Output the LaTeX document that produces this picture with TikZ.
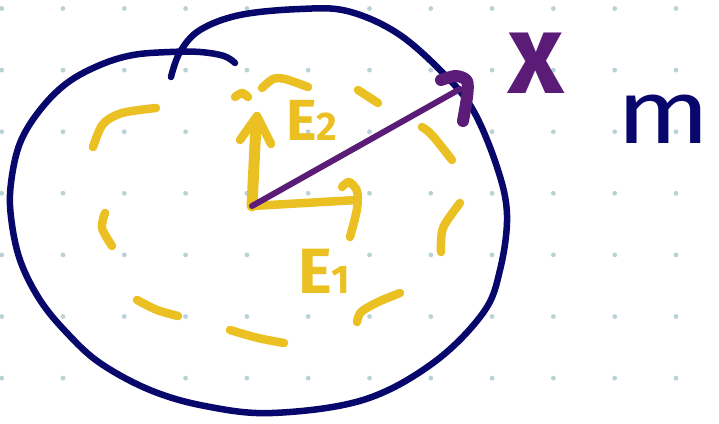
\documentclass[tikz,border=0pt]{standalone}
\usepackage{fontspec}
\setsansfont{Fira Sans}
\usetikzlibrary{arrows.meta,calc,positioning}
\definecolor{inkNavy}  {HTML}{07076C}
\definecolor{inkYellow}{HTML}{EBC022}
\definecolor{inkPurple}{HTML}{5B1C78}
\definecolor{dotGray}  {HTML}{B9D2D6}
\tikzset{
  font=\sffamily,
  griddot/.style={fill=dotGray,draw=none},
  outline/.style={draw=inkNavy,line width=6.5pt,line cap=round,line join=round},
  dashpiece/.style={draw=inkYellow,line width=8.5pt,line cap=round,line join=round},
  axis/.style={draw=inkYellow,line width=11pt,line cap=round},
  axishead/.style={draw=inkYellow,line width=8.5pt,line cap=round,line join=round},
  vecline/.style={draw=inkPurple,line width=6pt,line cap=round},
  vechead/.style={draw=inkPurple,line width=12pt,line cap=round,line join=round},
  ylabel/.style={text=inkYellow,font=\sffamily\bfseries,inner sep=0pt},
}

\begin{document}
\begin{tikzpicture}[x=1pt,y=-1pt]
\useasboundingbox (0,0) rectangle (719,423);

% dot grid
\foreach \i in {0,...,11}
  \foreach \j in {0,...,6}
    \fill[griddot] (1.7+61.3*\i,8.5+61.6*\j) circle (2.4);

% navy loop
\draw[outline] plot[smooth,tension=0.6] coordinates {
  (235,63) (224,56) (200,52) (170,52) (133,55) (100,65) (67,83) (40,110)
  (20,143) (11,183) (11,217) (20,260) (40,300) (67,333) (100,363) (150,390)
  (205,406) (272,413) (363,400) (433,363) (483,313) (500,270) (507,215)
  (497,167) (473,110) (443,73) (397,33) (347,11) (300,9) (240,15) (200,30)
  (180,52) (171,77)};

% dashed yellow blob
\draw[dashpiece] plot[smooth] coordinates {(156,108) (122,113) (103,124) (93,147)};
\draw[dashpiece] plot[smooth] coordinates {(105,213) (102,228) (112,246)};
\draw[dashpiece] plot[smooth] coordinates {(137,300) (157,310) (178,316)};
\draw[dashpiece] plot[smooth] coordinates {(230,330) (258,338) (284,343)};
\draw[dashpiece] plot[smooth] coordinates {(357,322) (361,312) (378,302) (400,293)};
\draw[dashpiece] plot[smooth] coordinates {(441,252) (443,228) (460,203)};
\draw[dashpiece] plot[smooth] coordinates {(422,127) (432,135) (452,160)};
\draw[dashpiece] (358,90) -- (378,103);
\draw[dashpiece] plot[smooth] coordinates {(262,88) (273,79) (285,79) (308,87)};
\draw[dashpiece] plot[smooth] coordinates {(235,97) (242,93) (248,97)};

% axes
\coordinate (origin) at (252,206);
\coordinate (etwoTip) at (256,124);
\coordinate (eoneTip) at (357,200);
\draw[axis] (origin) -- (etwoTip);
\draw[axishead] (240,140) -- (257,116) -- (271,144);
\draw[axishead] (origin) -- (eoneTip);
\draw[axishead] plot[smooth] coordinates {(342,187) (349,182) (357,191) (357,209) (350,237)};

\node[ylabel,anchor=base west] (lblEtwo) at (286,140)
  {\fontsize{58}{58}\selectfont E\fontsize{40}{40}\selectfont 2};
\node[ylabel,anchor=base west] (lblEone) at (298,293)
  {\fontsize{64}{64}\selectfont E\fontsize{40}{40}\selectfont 1};

% vector x
\coordinate (xTip) at (460,89);
\draw[vecline] (origin) -- (xTip);
\draw[vechead] plot[smooth] coordinates {(441,80) (456,76) (467,81) (467,97) (463,121)};

\node[text=inkPurple,font=\sffamily\bfseries,inner sep=0pt,anchor=base,xscale=0.95] (lblx) at (536,93)
  {\fontsize{114}{114}\selectfont x};
\node[text=inkNavy,inner sep=0pt,anchor=base,xscale=1.22] (lblm) at (664,143)
  {\fontsize{90}{90}\selectfont m};

\end{tikzpicture}
\end{document}
